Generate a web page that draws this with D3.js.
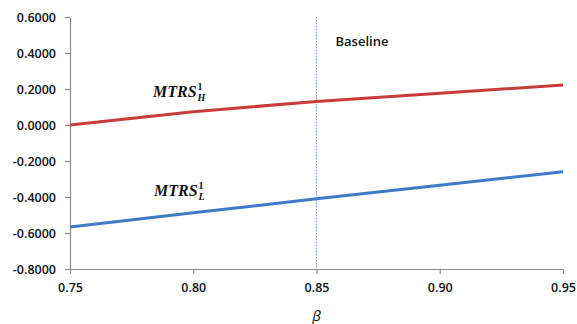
<!DOCTYPE html>
<meta charset="utf-8">
<script src="https://d3js.org/d3.v7.min.js"></script>
<style>
  body { margin: 0; background: #fff; }
  text { font-family: "Open Sans", sans-serif; }
</style>
<div id="chart"></div>
<script>
// beta values along x, and the two MTRS series
const beta = [0.75, 0.80, 0.85, 0.90, 0.95];
const mtrsH = [0.000, 0.074, 0.131, 0.177, 0.222];
const mtrsL = [-0.567, -0.488, -0.410, -0.335, -0.260];
const yTicks = [0.6, 0.4, 0.2, 0.0, -0.2, -0.4, -0.6, -0.8];
const xTicks = [0.75, 0.80, 0.85, 0.90, 0.95];
const baselineBeta = 0.85;

const width = 577, height = 324;
const margin = {top: 17, right: 14, bottom: 55, left: 70};

const svg = d3.select("#chart").append("svg")
  .attr("width", width)
  .attr("height", height);

const x = d3.scaleLinear().domain([0.75, 0.95]).range([margin.left, width - margin.right]);
const y = d3.scaleLinear().domain([-0.8, 0.6]).range([height - margin.bottom, margin.top]);

// hyphen instead of the unicode minus, like the original
const fmt4 = d => d3.format(".4f")(d).replace("−", "-");

// y axis
const yAxis = svg.append("g")
  .attr("transform", "translate(" + margin.left + ",0)")
  .call(d3.axisLeft(y).tickValues(yTicks).tickFormat(fmt4).tickSize(5).tickSizeOuter(0).tickPadding(9));

// x axis
const xAxis = svg.append("g")
  .attr("transform", "translate(0," + y(-0.8) + ")")
  .call(d3.axisBottom(x).tickValues(xTicks).tickFormat(d3.format(".2f")).tickSize(5).tickSizeOuter(0).tickPadding(9));

[yAxis, xAxis].forEach(a => {
  a.selectAll("path, line").attr("stroke", "#8c8c8c").attr("stroke-width", 1.2);
  a.selectAll("text").attr("fill", "#111").style("font-size", "12.5px").style("font-weight", 600);
});

// baseline marker
svg.append("line")
  .attr("x1", x(baselineBeta)).attr("x2", x(baselineBeta))
  .attr("y1", y(0.6)).attr("y2", y(-0.8))
  .attr("stroke", "#6f9ad8")
  .attr("stroke-width", 1.2)
  .attr("stroke-dasharray", "1.5,1.5");

svg.append("text")
  .attr("x", x(baselineBeta) + 19)
  .attr("y", 46)
  .style("font-size", "13px")
  .style("font-weight", 600)
  .attr("fill", "#111")
  .text("Baseline");

// series lines
const line = d3.line().x((d, i) => x(beta[i])).y(d => y(d));

svg.append("path").datum(mtrsH)
  .attr("fill", "none").attr("stroke", "#c93c3c").attr("stroke-width", 3)
  .attr("d", line);

svg.append("path").datum(mtrsL)
  .attr("fill", "none").attr("stroke", "#3d7bc6").attr("stroke-width", 3)
  .attr("d", line);

// series labels
function mtrsLabel(xp, yp, sub) {
  const serif = "'Liberation Serif', 'DejaVu Serif', serif";
  const main = svg.append("text")
    .attr("x", xp).attr("y", yp)
    .style("font-family", serif)
    .style("font-style", "italic")
    .style("font-weight", "bold")
    .style("font-size", "16px")
    .attr("fill", "#111")
    .text("MTRS");
  const sx = xp + main.node().getComputedTextLength() + 1;
  svg.append("text")
    .attr("x", sx).attr("y", yp - 7)
    .style("font-family", serif)
    .style("font-weight", "bold")
    .style("font-size", "10px")
    .attr("fill", "#111")
    .text("1");
  svg.append("text")
    .attr("x", sx).attr("y", yp + 4)
    .style("font-family", serif)
    .style("font-style", "italic")
    .style("font-weight", "bold")
    .style("font-size", "10px")
    .attr("fill", "#111")
    .text(sub);
}
mtrsLabel(153, 97, "H");
mtrsLabel(154, 196, "L");

// x title
svg.append("text")
  .attr("x", x(0.85))
  .attr("y", 321)
  .attr("text-anchor", "middle")
  .style("font-size", "15px")
  .style("font-style", "italic")
  .attr("fill", "#111")
  .text("β");
</script>
